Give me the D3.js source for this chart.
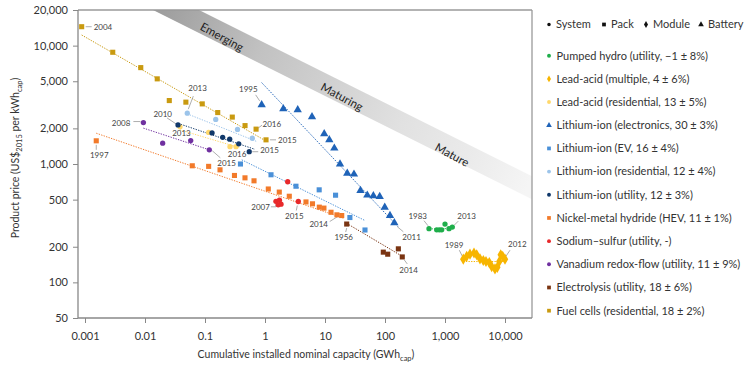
<!DOCTYPE html>
<html>
<head>
<meta charset="utf-8">
<script src="https://cdn.jsdelivr.net/npm/d3@7"></script>
<style>
body { margin: 0; background: #fff; }
svg text { font-family: Lato, "Open Sans", sans-serif; }
</style>
</head>
<body>
<div id="chart"></div>
<script>
// axis ticks
const xTicks = [0.001, 0.01, 0.1, 1, 10, 100, 1000, 10000];
const yTicks = [50, 100, 200, 500, 1000, 2000, 5000, 10000, 20000];

// legend labels, in legend order
const seriesNames = [
    "Pumped hydro (utility, \u22121 \u00b1 8%)",
    "Lead-acid (multiple, 4 \u00b1 6%)",
    "Lead-acid (residential, 13 \u00b1 5%)",
    "Lithium-ion (electronics, 30 \u00b1 3%)",
    "Lithium-ion (EV, 16 \u00b1 4%)",
    "Lithium-ion (residential, 12 \u00b1 4%)",
    "Lithium-ion (utility, 12 \u00b1 3%)",
    "Nickel-metal hydride (HEV, 11 \u00b1 1%)",
    "Sodium\u2013sulfur (utility, -)",
    "Vanadium redox-flow (utility, 11 \u00b1 9%)",
    "Electrolysis (utility, 18 \u00b1 6%)",
    "Fuel cells (residential, 18 \u00b1 2%)"
];
const seriesColors = ["#1fae4b", "#f7b500", "#ffd86b", "#1f63b8", "#4a90d8", "#9cc4ea",
    "#10386a", "#f27a2a", "#e8292b", "#7030a0", "#7a3412", "#c99a10"];
const seriesShapes = ["circle", "diamond", "circle", "triangle", "square", "circle",
    "circle", "square", "circle", "circle", "square", "square"];

// [cumulative capacity GWh, price US$/kWh]
const pumpedHydro = [[541, 284], [727, 278], [804, 278], [881, 278], [1000, 311], [1166, 284], [1324, 293]];
const pumpedHydroTrend = [[541, 283], [1324, 285]];

const leadAcidMultiple = [[2018, 157], [2300, 166], [2610, 173], [3043, 177], [3375, 171], [3830, 158],
    [4350, 153], [4820, 150], [5470, 147], [6000, 136], [6810, 130], [7450, 134], [8040, 150],
    [8480, 171], [9150, 166], [10000, 157]];
const leadAcidMultipleTrend = [[2018, 150], [10000, 150]];

const leadAcidResidential = [[0.0383, 2060], [0.115, 1850], [0.261, 1400], [0.329, 1400]];
const leadAcidResidentialTrend = [[0.0383, 1940], [0.383, 1370]];

const liIonElectronics = [[0.88, 3160], [2.02, 2920], [3.51, 2870], [6.07, 2500], [9.7, 1800], [11.8, 1600],
    [14.3, 1360], [17.8, 1000], [23.5, 834], [30.4, 820], [39, 597], [50.7, 545], [64, 538], [81.6, 531],
    [99, 431], [121, 366], [143, 319]];
const liIonElectronicsTrend = [[0.88, 4870], [165, 295]];

const liIonEV = [[0.39, 1000], [1.26, 811], [3.28, 649], [8.0, 605], [15, 545], [26, 353], [46.4, 277]];
const liIonEVTrend = [[0.41, 1084], [46.4, 333]];

const liIonResidential = [[0.0507, 2690], [0.151, 2380], [0.348, 1960], [0.614, 1650]];
const liIonResidentialTrend = [[0.0507, 2650], [0.73, 1549]];

const liIonUtility = [[0.0355, 2140], [0.131, 1830], [0.197, 1680], [0.258, 1620], [0.365, 1480], [0.546, 1270]];
const liIonUtilityTrend = [[0.036, 2200], [0.68, 1330]];

const nickelMetalHydride = [[0.00154, 1570], [0.0614, 966], [0.115, 955], [0.178, 893], [0.31, 800],
    [0.464, 764], [0.656, 721], [1.135, 615], [1.73, 579], [2.54, 534], [4.82, 478], [6.19, 461],
    [8.04, 432], [9.6, 424], [12.6, 391], [15.8, 372], [19, 367]];
const nickelMetalHydrideTrend = [[0.00154, 1820], [20.2, 349]];

const sodiumSulfur = [[1.52, 484], [1.74, 494], [1.85, 458], [1.66, 452], [2.39, 708], [3.59, 482]];

const vanadium = [[0.0094, 2240], [0.0197, 1500], [0.0578, 1578], [0.118, 1318]];
const vanadiumTrend = [[0.0094, 2010], [0.118, 1318]];

const electrolysis = [[23, 311], [93.7, 180], [111, 173], [167, 192], [194, 164]];
const electrolysisTrend = [[23, 315], [194, 166]];

const fuelCells = [[0.00088, 14450], [0.0029, 8790], [0.0085, 6520], [0.016, 5240], [0.0254, 3435],
    [0.048, 3330], [0.09, 3220], [0.163, 2720], [0.285, 2490], [0.465, 2110], [0.71, 1970], [1.04, 1600]];
const fuelCellsTrend = [[0.00088, 12300], [1.07, 1550]];

const seriesPoints = [pumpedHydro, leadAcidMultiple, leadAcidResidential, liIonElectronics, liIonEV,
    liIonResidential, liIonUtility, nickelMetalHydride, sodiumSulfur, vanadium, electrolysis, fuelCells];
const seriesTrends = [pumpedHydroTrend, leadAcidMultipleTrend, leadAcidResidentialTrend, liIonElectronicsTrend,
    liIonEVTrend, liIonResidentialTrend, liIonUtilityTrend, nickelMetalHydrideTrend, null, vanadiumTrend,
    electrolysisTrend, fuelCellsTrend];

// experience band edges and stage names
const bandUpper = [[0.0794, 20000], [28200, 787]];
const bandLower = [[0.01358, 20000], [28200, 503]];
const stageNames = ["Emerging", "Maturing", "Mature"];
const stageAt = [[0.192, 11830], [19.2, 3690], [1309, 1194]];

// year labels: series index, point index, text
const yearLabels = [
    [11, 0, "2004"], [11, 10, "2016"], [11, 11, "2015"],
    [3, 0, "1995"], [3, 16, "2011"],
    [5, 0, "2013"], [6, 0, "2010"], [6, 5, "2015"],
    [2, 0, "2013"], [2, 3, "2016"],
    [9, 0, "2008"], [9, 3, "2015"],
    [7, 0, "1997"], [7, 16, "2014"],
    [8, 0, "2007"], [8, 5, "2015"],
    [10, 0, "1956"], [10, 4, "2014"],
    [0, 0, "1983"], [0, 6, "2013"],
    [1, 0, "1989"], [1, 15, "2012"]
];
// label placement (dx, dy, anchor, leader polyline), same order
const labelPlace = [
    [12, 3, "start", [[4, 0], [10, 0]]], [6.5, -2.5, "start", [[2, -1], [6, -4]]], [12, 3.5, "start", [[4, 0], [10, 0]]],
    [-4, -13, "end", [[-6, -10], [-2, -4]]], [8, 17, "start", [[3, 4], [9, 9]]],
    [1, -22, "start", [[6, -17], [1, -4]]], [-6, -8, "end", [[-11, -7], [-2, -1]]], [11, 1.5, "start", [[3, 0], [9, 0]]],
    [1.5, 9, "middle", null], [1, 10, "middle", null],
    [-13, 3, "end", [[-10, -1], [-3, -1]]], [8, 16, "start", [[3, 1], [11, 8]]],
    [3, 17.5, "middle", [[0, 4], [0, 9]]], [-13.7, 11, "end", [[-12, 6], [-4, 1]]],
    [-6, 8.5, "end", [[-5, 5.5], [0, 5.5], [0, 3]]], [-4, 17, "middle", [[-1, 4], [-2, 9]]],
    [-3, 16, "middle", [[0, 4], [-1, 8]]], [-3, 16, "start", [[2, 3], [5, 7]]],
    [-2, -10, "end", [[-5, -8], [-1, -3]]], [5, -8, "start", [[2, -2], [6, -6]]],
    [0, -11, "end", [[-4, -9], [-1, -3]]], [3, -12, "start", [[1, -3], [5, -9]]]
];

const width = 750, height = 368;
const plotL = 78, plotR = 532, plotT = 10, plotB = 318;

const svg = d3.select("#chart").append("svg")
    .attr("width", width)
    .attr("height", height);

const x = d3.scaleLog().domain([0.001, 10000]).range([85, 505]);
const y = d3.scaleLog().domain([50, 20000]).range([318, 10]);

const symbolType = {circle: d3.symbolCircle, square: d3.symbolSquare, diamond: d3.symbolDiamond, triangle: d3.symbolTriangle};
const symbolSize = {circle: 22, square: 26, diamond: 36, triangle: 30};

// band
const defs = svg.append("defs");
defs.append("clipPath").attr("id", "plotclip")
    .append("rect").attr("x", plotL).attr("y", plotT).attr("width", plotR - plotL).attr("height", plotB - plotT);
const grad = defs.append("linearGradient").attr("id", "bandgrad")
    .attr("gradientUnits", "userSpaceOnUse")
    .attr("x1", x(bandLower[0][0])).attr("y1", y(bandLower[0][1]))
    .attr("x2", x(bandUpper[1][0])).attr("y2", y(bandUpper[1][1]));
[[0, "#9b9b9b"], [0.28, "#c2c2c2"], [0.5, "#d4d4d4"], [0.66, "#e1e1e1"], [0.85, "#ebebeb"], [1, "#f5f5f5"]].forEach(s => {
    grad.append("stop").attr("offset", s[0]).attr("stop-color", s[1]);
});

const bandPoly = [bandUpper[0], bandUpper[1], bandLower[1], bandLower[0]];
svg.append("path")
    .attr("clip-path", "url(#plotclip)")
    .attr("d", d3.line().x(d => x(d[0])).y(d => y(d[1]))(bandPoly) + "Z")
    .attr("fill", "url(#bandgrad)");

const angle = Math.atan2(y(bandUpper[1][1]) - y(bandUpper[0][1]), x(bandUpper[1][0]) - x(bandUpper[0][0])) * 180 / Math.PI;
svg.selectAll(".stage")
    .data(stageNames)
    .enter()
    .append("text")
    .attr("class", "stage")
    .attr("transform", (d, i) => `translate(${x(stageAt[i][0])},${y(stageAt[i][1])}) rotate(${angle + 2})`)
    .attr("text-anchor", "middle")
    .attr("dy", "0.35em")
    .attr("font-size", 11.5)
    .attr("fill", "#222")
    .text(d => d);

// frame
svg.append("line").attr("x1", plotL).attr("x2", plotR).attr("y1", plotT).attr("y2", plotT)
    .attr("stroke", "#9a9a9a").attr("stroke-width", 1.3);
svg.append("line").attr("x1", plotR).attr("x2", plotR).attr("y1", plotT).attr("y2", plotB)
    .attr("stroke", "#9a9a9a").attr("stroke-width", 1.3);

// axes
const xAxis = svg.append("g")
    .attr("transform", `translate(0,${plotB})`)
    .call(d3.axisBottom(x).tickValues(xTicks).tickSize(5).tickPadding(9)
        .tickFormat(d => d >= 1 ? d3.format(",")(d) : String(d)));
const yAxis = svg.append("g")
    .attr("transform", `translate(${plotL},0)`)
    .call(d3.axisLeft(y).tickValues(yTicks).tickSize(5).tickPadding(5).tickFormat(d3.format(",")));
[xAxis, yAxis].forEach(g => {
    g.select(".domain").remove();
    g.selectAll(".tick line").attr("stroke", "#888");
    g.selectAll(".tick text").attr("font-size", 11).attr("fill", "#333").attr("font-family", "Lato, sans-serif");
});
svg.append("line").attr("x1", plotL).attr("x2", plotR).attr("y1", plotB).attr("y2", plotB)
    .attr("stroke", "#888").attr("stroke-width", 1.3);
svg.append("line").attr("x1", plotL).attr("x2", plotL).attr("y1", plotT).attr("y2", plotB)
    .attr("stroke", "#888").attr("stroke-width", 1.3);

// axis titles
const yTitle = svg.append("text")
    .attr("transform", `translate(19,158) rotate(-90)`)
    .attr("text-anchor", "middle")
    .attr("font-size", 10.5)
    .attr("fill", "#333");
yTitle.append("tspan").text("Product price (US$");
yTitle.append("tspan").attr("font-size", 7.5).attr("dy", 2.5).text("2015");
yTitle.append("tspan").attr("dy", -2.5).text(" per kWh");
yTitle.append("tspan").attr("font-size", 7.5).attr("dy", 2.5).text("cap");
yTitle.append("tspan").attr("dy", -2.5).text(")");

const xTitle = svg.append("text")
    .attr("x", 306).attr("y", 358)
    .attr("text-anchor", "middle")
    .attr("font-size", 10.5)
    .attr("fill", "#333");
xTitle.append("tspan").text("Cumulative installed nominal capacity (GWh");
xTitle.append("tspan").attr("font-size", 7.5).attr("dy", 2.5).text("cap");
xTitle.append("tspan").attr("dy", -2.5).text(")");

// trend lines
const line = d3.line().x(d => x(d[0])).y(d => y(d[1]));
seriesTrends.forEach((t, i) => {
    if (!t) return;
    svg.append("path")
        .attr("d", line(t))
        .attr("fill", "none")
        .attr("stroke", seriesColors[i])
        .attr("stroke-width", 1)
        .attr("stroke-dasharray", "1.3,1.3");
});

// leaders and year labels
yearLabels.forEach((lab, k) => {
    const p = seriesPoints[lab[0]][lab[1]];
    const px = x(p[0]), py = y(p[1]);
    const pl = labelPlace[k];
    if (pl[3]) {
        svg.append("path")
            .attr("d", d3.line()(pl[3].map(o => [px + o[0], py + o[1]])))
            .attr("fill", "none")
            .attr("stroke", "#999")
            .attr("stroke-width", 0.8);
    }
    svg.append("text")
        .attr("x", px + pl[0])
        .attr("y", py + pl[1])
        .attr("text-anchor", pl[2])
        .attr("font-size", 8)
        .attr("fill", "#444")
        .text(lab[2]);
});

// markers
seriesPoints.forEach((pts, i) => {
    const sym = d3.symbol().type(symbolType[seriesShapes[i]]).size(symbolSize[seriesShapes[i]]);
    svg.append("g").selectAll("path")
        .data(pts)
        .enter()
        .append("path")
        .attr("transform", d => `translate(${x(d[0])},${y(d[1])})`)
        .attr("d", sym)
        .attr("fill", seriesColors[i]);
});

// legend
const shapeHeader = [["circle", "System"], ["square", "Pack"], ["diamond", "Module"], ["triangle", "Battery"]];
const headerX = [549, 604, 646, 701];
shapeHeader.forEach((h, i) => {
    svg.append("path")
        .attr("transform", `translate(${headerX[i]},24.5)`)
        .attr("d", d3.symbol().type(symbolType[h[0]]).size(h[0] === "circle" ? 10 : 14)())
        .attr("fill", "#111");
    svg.append("text")
        .attr("x", headerX[i] + 7).attr("y", 24.5)
        .attr("dy", "0.35em")
        .attr("font-size", 11)
        .attr("fill", "#333")
        .text(h[1]);
});

const legend = svg.append("g");
const legendRows = legend.selectAll("g")
    .data(seriesNames)
    .enter()
    .append("g")
    .attr("transform", (d, i) => `translate(549,${55.7 + i * 23.18})`);
legendRows.append("path")
    .attr("d", (d, i) => d3.symbol().type(symbolType[seriesShapes[i]]).size(seriesShapes[i] === "circle" ? 12 : 14)())
    .attr("fill", (d, i) => seriesColors[i]);
legendRows.append("text")
    .attr("x", 7.5)
    .attr("dy", "0.35em")
    .attr("font-size", 11)
    .attr("fill", "#333")
    .text(d => d);
</script>
</body>
</html>
